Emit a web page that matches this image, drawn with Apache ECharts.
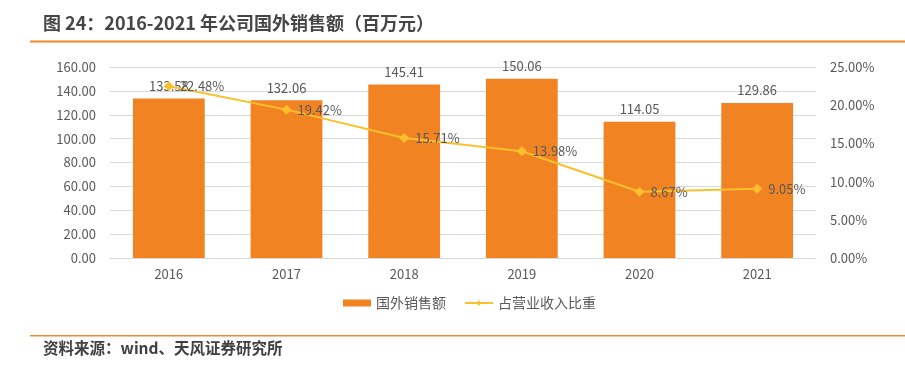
<!DOCTYPE html>
<html>
<head>
<meta charset="utf-8">
<script src="https://cdn.jsdelivr.net/npm/echarts@6/dist/echarts.min.js"></script>
<style>
  html, body { margin: 0; padding: 0; background: #fff; }
  #main { width: 905px; height: 375px; }
</style>
</head>
<body>
<div id="main"></div>
<script>
var years = ['2016', '2017', '2018', '2019', '2020', '2021'];
var sales = [133.58, 132.06, 145.41, 150.06, 114.05, 129.86];
var ratio = [22.48, 19.42, 15.71, 13.98, 8.67, 9.05];

var font = '"Noto Sans CJK SC", "Noto Sans", sans-serif';
var chart = echarts.init(document.getElementById('main'));

var option = {
  animation: false,
  textStyle: { fontFamily: font },
  graphic: [
    {
      type: 'text', left: 43, top: 14,
      style: { text: '图 24：2016-2021 年公司国外销售额（百万元）', fontSize: 18, fontWeight: 'bold', fill: '#454545', fontFamily: font }
    },
    {
      type: 'rect', shape: { x: 30, y: 40.5, width: 875, height: 2 },
      style: { fill: '#F08A2C' }
    },
    {
      type: 'rect', shape: { x: 30, y: 335, width: 875, height: 1.5 },
      style: { fill: '#F08A2C' }
    },
    {
      type: 'text', left: 43, top: 340,
      style: { text: '资料来源：wind、天风证券研究所', fontSize: 15.5, fontWeight: 'bold', fill: '#404040', fontFamily: font }
    }
  ],
  grid: { left: 110, right: 89, top: 67, bottom: 117 },
  legend: {
    bottom: 60,
    left: 338,
    itemGap: 18,
    itemWidth: 28,
    itemHeight: 7,
    textStyle: { color: '#595959', fontSize: 14 },
    data: [
      { name: '国外销售额', icon: 'rect' },
      { name: '占营业收入比重' }
    ]
  },
  xAxis: {
    type: 'category',
    data: years,
    axisLine: { lineStyle: { color: '#d9d9d9' } },
    axisTick: { show: false },
    axisLabel: { color: '#595959', fontSize: 13, margin: 10 }
  },
  yAxis: [
    {
      type: 'value', min: 0, max: 160, interval: 20,
      axisLine: { show: false }, axisTick: { show: false },
      splitLine: { lineStyle: { color: '#d9d9d9' } },
      axisLabel: { color: '#595959', fontSize: 13, margin: 14, formatter: function (v) { return v.toFixed(2); } }
    },
    {
      type: 'value', min: 0, max: 25, interval: 5,
      axisLine: { show: false }, axisTick: { show: false },
      splitLine: { show: false },
      axisLabel: { color: '#595959', fontSize: 13, margin: 14, formatter: function (v) { return v.toFixed(2) + '%'; } }
    }
  ],
  series: [
    {
      name: '国外销售额',
      type: 'bar',
      data: sales,
      barWidth: '61%',
      itemStyle: { color: '#F28322' },
      label: {
        show: true, position: 'top', distance: 6, color: '#595959', fontSize: 13,
        formatter: function (p) { return p.value.toFixed(2); }
      }
    },
    {
      name: '占营业收入比重',
      type: 'line',
      yAxisIndex: 1,
      data: ratio,
      symbol: 'diamond',
      symbolSize: 10,
      lineStyle: { color: '#FBC02D', width: 2 },
      itemStyle: { color: '#FBC02D' },
      label: {
        show: true, position: 'right', distance: 6, color: '#595959', fontSize: 13,
        formatter: function (p) { return p.value.toFixed(2) + '%'; }
      }
    }
  ]
};

chart.setOption(option);
</script>
</body>
</html>
